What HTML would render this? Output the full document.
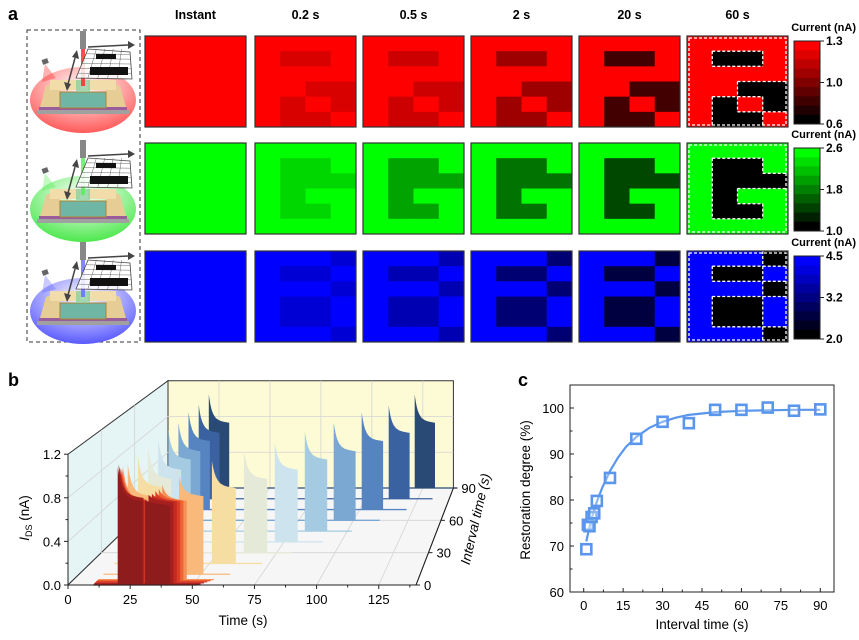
<!DOCTYPE html>
<html><head><meta charset="utf-8">
<style>
html,body{margin:0;padding:0;background:#fff;}
svg{display:block;font-family:"Liberation Sans",Arial,sans-serif;}
</style></head>
<body>
<svg id="fig" width="859" height="640" viewBox="0 0 859 640" xmlns="http://www.w3.org/2000/svg">
<defs>
<radialGradient id="gr" cx="0.5" cy="0.3" r="0.7"><stop offset="0" stop-color="#fff"/><stop offset="1" stop-color="#ff5a5a"/></radialGradient>
<radialGradient id="gg" cx="0.5" cy="0.3" r="0.7"><stop offset="0" stop-color="#fff"/><stop offset="1" stop-color="#4ee84e"/></radialGradient>
<radialGradient id="gb" cx="0.5" cy="0.3" r="0.7"><stop offset="0" stop-color="#fff"/><stop offset="1" stop-color="#5a5aff"/></radialGradient>
</defs>
<text x="8" y="20" font-size="18" font-weight="bold">a</text>
<text x="8" y="386" font-size="18" font-weight="bold">b</text>
<text x="518" y="386" font-size="18" font-weight="bold">c</text>
<g id="schem"></g>
<g id="pa"></g>
<g id="pb"></g>
<g id="pc"></g>
</svg>
<script>
// ---------- Panel a data ----------
const timeLabels = ["Instant","0.2 s","0.5 s","2 s","20 s","60 s"];
const maskR = [[0,0,0,0],[0,1,1,0],[0,0,0,0],[0,0,1,1],[0,1,0,1],[0,1,1,0]];
const maskG = [[0,0,0,0],[0,1,1,0],[0,1,1,1],[0,1,0,0],[0,1,1,0],[0,0,0,0]];
const maskB = [[0,0,0,1],[0,1,1,0],[0,0,0,1],[0,1,1,0],[0,1,1,0],[0,0,0,1]];
const darkR = [0,0.15,0.2,0.38,0.74,1];
const darkG = [0,0.16,0.36,0.55,0.72,1];
const darkB = [0,0.17,0.3,0.55,0.75,1];
const cbTicksR = ["1.3","1.0","0.6"];
const cbTicksG = ["2.6","1.8","1.0"];
const cbTicksB = ["4.5","3.2","2.0"];

// ---------- Panel b data ----------
const intervals = [0,1,2,3,4,5,10,20,30,40,50,60,70,80,90];
const peak1 = [1.08,1.1,1.07,1.05,1.04,1.05,1.03,1.02,1.03,1.02,1.03,1.02,1.04,1.03,1.05];
const plateau1 = [0.8,0.82,0.79,0.78,0.78,0.77,0.76,0.76,0.75,0.75,0.76,0.75,0.76,0.75,0.76];
const peak2 = [0.78,0.82,0.82,0.84,0.85,0.88,0.92,0.98,1.0,0.99,1.02,1.02,1.04,1.02,1.05];
const plateau2 = [0.76,0.78,0.78,0.77,0.77,0.76,0.76,0.75,0.75,0.75,0.76,0.75,0.76,0.75,0.76];
const traceColors = ['#8e1c1c','#a51f1f','#c32a20','#dc3b25','#ec6334','#f4925a','#f9b97a','#f6dea3','#e4ead7','#cde4ee','#a4cbe2','#7aa8d2','#5684c1','#3b62a0','#2a4a76'];
const bXTicks = [0,25,50,75,100,125];
const bZTicks = ["0.0","0.4","0.8","1.2"];
const bDTicks = [0,30,60,90];

// ---------- Panel c data ----------
const cT = [1,1.6,2.2,3,4,5,10,20,30,40,50,60,70,80,90];
const cR = [69.3,74.6,74.3,76.3,77.1,79.8,84.8,93.3,97.0,96.7,99.6,99.6,100.1,99.4,99.7];
const fitT = [1,2,3,5,7,10,13,16,20,25,30,35,40,50,60,70,80,90];
const fitR = [71,73.6,76,79.6,82.6,86.3,89.2,91.5,93.7,95.7,97.0,97.9,98.5,99.1,99.4,99.5,99.6,99.6];
const cXTicks = [0,15,30,45,60,75,90];
const cYTicks = [60,70,80,90,100];

const NS="http://www.w3.org/2000/svg";
function mk(parent,tag,attrs,text){const e=document.createElementNS(NS,tag);for(const k in attrs)e.setAttribute(k,attrs[k]);if(text!==undefined)e.textContent=text;parent.appendChild(e);return e;}

// ---------- schematic ----------
(function(){
  const g=document.getElementById('schem');
  mk(g,'rect',{x:27,y:30,width:113,height:312,fill:'none',stroke:'#333','stroke-dasharray':'4,3','stroke-width':1});
  const rows=[{cy:100,grad:'gr',beam:'#f22'},{cy:209,grad:'gg',beam:'#5e5'},{cy:311,grad:'gb',beam:'#66f'}];
  rows.forEach((r,i)=>{
    const o=r.cy-100;
    const sg=mk(g,'g',{});
    
    
    mk(sg,'ellipse',{cx:83,cy:100+o,rx:53,ry:33,fill:'url(#'+r.grad+')'});
    mk(sg,'rect',{x:37,y:110+o,width:92,height:4,fill:'#a0a0a0'});
    mk(sg,'rect',{x:39,y:107+o,width:88,height:3,fill:'#9a5c9a'});
    mk(sg,'polygon',{points:`40,${107+o} 46,${86+o} 60,${80+o} 60,${107+o}`,fill:'#e6cd96'});
    mk(sg,'polygon',{points:`126,${107+o} 120,${86+o} 106,${80+o} 106,${107+o}`,fill:'#e6cd96'});
    mk(sg,'rect',{x:50,y:80+o,width:30,height:10,fill:'#f1dcaa'});
    mk(sg,'rect',{x:88,y:80+o,width:28,height:10,fill:'#f1dcaa'});
    mk(sg,'rect',{x:60,y:92+o,width:46,height:16,fill:'#6fb7a4',stroke:'#b08030','stroke-width':1});
    mk(sg,'rect',{x:76,y:80+o,width:14,height:12,fill:'#8fd0a0',opacity:0.8});
    mk(sg,'rect',{x:80,y:31+o,width:6,height:18,fill:'#888'});
    mk(sg,'rect',{x:81,y:49+o,width:4,height:37,fill:r.beam,opacity:0.8});
    mk(sg,'polygon',{points:`88,${49+o} 130,${52+o} 132,${79+o} 76,${78+o}`,fill:'#fff','fill-opacity':0.85,stroke:'#444','stroke-width':0.8});
    for(let k=1;k<6;k++){const yy=49+o+k*(29/6);mk(sg,'line',{x1:88-k*2,y1:yy,x2:130+k*0.33,y2:yy+0.5,stroke:'#666','stroke-width':0.5});}
    for(let k=1;k<5;k++){const xx=88+k*8.4;mk(sg,'line',{x1:xx,y1:49+o,x2:xx-10+k*1.5,y2:78+o,stroke:'#666','stroke-width':0.5});}
    mk(sg,'rect',{x:96,y:54+o,width:20,height:5,fill:'#111'});
    mk(sg,'rect',{x:90,y:67+o,width:38,height:8,fill:'#111'});
    mk(sg,'line',{x1:88,y1:47+o,x2:128,y2:45+o,stroke:'#444','stroke-width':1.5});
    mk(sg,'polygon',{points:`128,${41+o} 135,${45+o} 128,${49+o}`,fill:'#444'});
    mk(sg,'line',{x1:68,y1:84+o,x2:75,y2:58+o,stroke:'#444','stroke-width':1.5});
    mk(sg,'polygon',{points:`72,${57+o} 77,${50+o} 79,${59+o}`,fill:'#444'});
    mk(sg,'polygon',{points:`64,${82+o} 67,${91+o} 71,${84+o}`,fill:'#444'});
    mk(sg,'rect',{x:42,y:59+o,width:6,height:5,fill:'#666',transform:`rotate(-20 45 ${61+o})`});
    mk(sg,'polygon',{points:`45,${64+o} 42,${82+o} 56,${78+o}`,fill:r.beam,opacity:0.35});
  });
})();

// ---------- Panel a ----------
(function(){
  const g=document.getElementById('pa');
  const colX=[145,255,363,471,579,687];
  const rowY=[36,143,251];
  const W=101,H=91;
  timeLabels.forEach((t,i)=>{
    const e=mk(g,'text',{x:colX[i]+W/2,y:19,'font-size':12.5,'font-weight':'bold','text-anchor':'middle'},t);
    
    
  });
  const rowsDef=[{mask:maskR,dark:darkR,ch:0,ticks:cbTicksR,name:'red'},{mask:maskG,dark:darkG,ch:1,ticks:cbTicksG,name:'green'},{mask:maskB,dark:darkB,ch:2,ticks:cbTicksB,name:'blue'}];
  function col(ch,v){const c=[0,0,0];c[ch]=Math.round(255*v);return `rgb(${c[0]},${c[1]},${c[2]})`;}
  rowsDef.forEach((rd,ri)=>{
    const y0=rowY[ri];
    for(let ti=0;ti<6;ti++){
      const x0=colX[ti];
      const mg=mk(g,'g',{});
      
      
      const cw=W/4,chh=H/6;
      for(let r=0;r<6;r++)for(let c=0;c<4;c++){
        const v=rd.mask[r][c]?1-rd.dark[ti]:1;
        const cell=mk(mg,'rect',{x:x0+c*cw,y:y0+r*chh,width:cw+0.4,height:chh+0.4,fill:col(rd.ch,v)});
        
        
      }
      if(ti===5){
        const ds={stroke:'#fff','stroke-width':1.3,'stroke-dasharray':'3,2',fill:'none'};
        mk(mg,'rect',Object.assign({x:x0+2,y:y0+2,width:W-4,height:H-4},ds));
        for(let r=0;r<6;r++)for(let c=0;c<4;c++){
          if(!rd.mask[r][c])continue;
          const X=x0+c*cw,Y=y0+r*chh;
          if(r===0||!rd.mask[r-1][c])mk(mg,'line',Object.assign({x1:X,y1:Y,x2:X+cw,y2:Y},ds));
          if(r===5||!rd.mask[r+1][c])mk(mg,'line',Object.assign({x1:X,y1:Y+chh,x2:X+cw,y2:Y+chh},ds));
          if(c===0||!rd.mask[r][c-1])mk(mg,'line',Object.assign({x1:X,y1:Y,x2:X,y2:Y+chh},ds));
          if(c===3||!rd.mask[r][c+1])mk(mg,'line',Object.assign({x1:X+cw,y1:Y,x2:X+cw,y2:Y+chh},ds));
        }
      }
      mk(mg,'rect',{x:x0,y:y0,width:W,height:H,fill:'none',stroke:'#333','stroke-width':1.2});
    }
    const cb=mk(g,'g',{});
    
    
    const cy0=y0+5,ch=83,n=9;
    for(let k=0;k<n;k++){
      mk(cb,'rect',{x:794,y:cy0+k*ch/n,width:26,height:ch/n+0.5,fill:col(rd.ch,1-k/(n-1))});
    }
    mk(cb,'rect',{x:794,y:cy0,width:26,height:ch,fill:'none',stroke:'#222','stroke-width':1});
    const tt=mk(cb,'text',{x:856,y:y0-5,'font-size':11,'font-weight':'bold','text-anchor':'end'},'Current (nA)');
    
    
    rd.ticks.forEach((t,k)=>{
      const ty=cy0+k*ch/2;
      mk(cb,'line',{x1:820,y1:ty,x2:824,y2:ty,stroke:'#222'});
      const e=mk(cb,'text',{x:826,y:ty+4,'font-size':12,'font-weight':'bold'},t);
      
      
    });
  });
})();

// ---------- Panel b ----------
(function(){
  const g=document.getElementById('pb');
  function P(t,d,z){const f=d/90,s=1-0.18*f;return [68+100*f+t*2.486*s,585-97*f-z*109*s];}
  function pts(a){return a.map(p=>p[0].toFixed(1)+','+p[1].toFixed(1)).join(' ');}
  const lw=mk(g,'polygon',{points:pts([P(0,0,0),P(0,0,1.2),P(0,90,1.2),P(0,90,0)]),fill:'#e5f4f4',stroke:'#333','stroke-width':1});
  
  const bw=mk(g,'polygon',{points:pts([P(0,90,0),P(0,90,1.2),P(140,90,1.2),P(140,90,0)]),fill:'#fdfbd6',stroke:'#333','stroke-width':1});
  
  const fl=mk(g,'polygon',{points:pts([P(0,0,0),P(140,0,0),P(140,90,0),P(0,90,0)]),fill:'#f6f6f6',stroke:'#333','stroke-width':1});
  
  const gs={stroke:'#d4d4d4','stroke-width':0.8};
  [25,50,75,100,125].forEach(t=>{
    let a=P(t,90,0),b=P(t,90,1.2);mk(g,'line',Object.assign({x1:a[0],y1:a[1],x2:b[0],y2:b[1]},gs));
    a=P(t,0,0);mk(g,'line',Object.assign({x1:a[0],y1:a[1],x2:P(t,90,0)[0],y2:P(t,90,0)[1]},gs));
  });
  [0.4,0.8].forEach(z=>{
    let a=P(0,90,z),b=P(140,90,z);mk(g,'line',Object.assign({x1:a[0],y1:a[1],x2:b[0],y2:b[1]},gs));
    a=P(0,0,z);mk(g,'line',Object.assign({x1:a[0],y1:a[1],x2:P(0,90,z)[0],y2:P(0,90,z)[1]},gs));
  });
  [30,60].forEach(d=>{
    let a=P(0,d,0),b=P(0,d,1.2);mk(g,'line',Object.assign({x1:a[0],y1:a[1],x2:b[0],y2:b[1]},gs));
    b=P(140,d,0);mk(g,'line',Object.assign({x1:a[0],y1:a[1],x2:b[0],y2:b[1]},gs));
  });
  const offs=[0,0.25,0.6,1,1.6,2.4,3.5,5,6.5,8,9.2,10];
  function pulse(t0,d,pk,pl){
    const arr=[P(t0,d,0)];
    offs.forEach(o=>{const z=pl+(pk-pl)*Math.exp(-o/1.6)-0.03*o/10;arr.push(P(t0+o,d,z));});
    arr.push(P(t0+10,d,0));
    return arr;
  }
  for(let i=intervals.length-1;i>=0;i--){
    const d=intervals[i];
    const tg=mk(g,'g',{});
    
    
    const a=P(10,d,0),b=P(Math.min(145,40+d+12),d,0);
    mk(tg,'line',{x1:a[0],y1:a[1],x2:b[0],y2:b[1],stroke:traceColors[i],'stroke-width':1.3});
    const p1=mk(tg,'polygon',{points:pts(pulse(20,d,peak1[i],plateau1[i])),fill:traceColors[i]});
    
    
    const p2=mk(tg,'polygon',{points:pts(pulse(31+d,d,peak2[i],plateau2[i])),fill:traceColors[i]});
    
    
  }
  const ax={stroke:'#222','stroke-width':1};
  let a=P(0,0,0),b=P(140,0,0);mk(g,'line',Object.assign({x1:a[0],y1:a[1],x2:b[0],y2:b[1]},ax));
  b=P(0,0,1.2);mk(g,'line',Object.assign({x1:a[0],y1:a[1],x2:b[0],y2:b[1]},ax));
  a=P(140,0,0);b=P(140,90,0);mk(g,'line',Object.assign({x1:a[0],y1:a[1],x2:b[0],y2:b[1]},ax));
  for(let t=0;t<=137.5;t+=12.5){const p=P(t,0,0);mk(g,'line',Object.assign({x1:p[0],y1:p[1],x2:p[0],y2:p[1]+(t%25===0?4:2.5)},ax));}
  bXTicks.forEach(t=>{const p=P(t,0,0);const e=mk(g,'text',{x:p[0],y:p[1]+19,'font-size':13,'text-anchor':'middle'},String(t));});
  bZTicks.forEach((t,k)=>{const p=P(0,0,k*0.4);mk(g,'line',Object.assign({x1:p[0]-4,y1:p[1],x2:p[0],y2:p[1]},ax));if(k<3){const q=P(0,0,k*0.4+0.2);mk(g,'line',Object.assign({x1:q[0]-2.5,y1:q[1],x2:q[0],y2:q[1]},ax));}const e=mk(g,'text',{x:p[0]-7,y:p[1]+5,'font-size':13,'text-anchor':'end'},t);});
  bDTicks.forEach(d=>{const p=P(140,d,0);mk(g,'line',Object.assign({x1:p[0],y1:p[1],x2:p[0]+4,y2:p[1]},ax));const e=mk(g,'text',{x:p[0]+8,y:p[1]+5,'font-size':13},String(d));});
  let e=mk(g,'text',{x:243,y:625,'font-size':13.5,'text-anchor':'middle'},'Time (s)');
  
  e=mk(g,'text',{x:0,y:0,'font-size':13.5,'text-anchor':'middle',transform:'translate(29,518) rotate(-90)'});
  
  mk(e,'tspan',{'font-style':'italic'},'I');mk(e,'tspan',{'font-size':9,dy:3},'DS');mk(e,'tspan',{dy:-3},' (nA)');
  e=mk(g,'text',{x:0,y:0,'font-size':13.5,'font-style':'italic','text-anchor':'middle',transform:'translate(480,520) rotate(-77)'},'Interval time (s)');
  
})();

// ---------- Panel c ----------
(function(){
  const g=document.getElementById('pc');
  const L=570,R=834,T=385,B=592;
  const sx=v=>583.7+(v/90)*(820.3-583.7);
  const sy=v=>592-(v-60)*4.6;
  const ax={stroke:'#222','stroke-width':1};
  const fr=mk(g,'rect',{x:L,y:T,width:R-L,height:B-T,fill:'none',stroke:'#222','stroke-width':1});
  
  for(let v=0;v<=90;v+=7.5){const x=sx(v);mk(g,'line',Object.assign({x1:x,y1:B,x2:x,y2:B-(v%15===0?4:2.5)},ax));}
  for(let v=60;v<=100;v+=5){const y=sy(v);mk(g,'line',Object.assign({x1:L,y1:y,x2:L+(v%10===0?4:2.5),y2:y},ax));}
  cXTicks.forEach(v=>{const e=mk(g,'text',{x:sx(v),y:B+18,'font-size':13,'text-anchor':'middle'},String(v));});
  cYTicks.forEach(v=>{const e=mk(g,'text',{x:L-6,y:sy(v)+5,'font-size':13,'text-anchor':'end'},String(v));});
  const d=fitT.map((t,i)=>(i?'L':'M')+sx(t).toFixed(1)+','+sy(fitR[i]).toFixed(1)).join(' ');
  const fit=mk(g,'path',{d:d,fill:'none',stroke:'#5a96ec','stroke-width':2.2});
  
  cT.forEach((t,i)=>{
    const m=mk(g,'rect',{x:sx(t)-5,y:sy(cR[i])-5,width:10,height:10,fill:'#fff','fill-opacity':0.3,stroke:'#5a96ec','stroke-width':2.6});
    
    
  });
  let e=mk(g,'text',{x:702,y:629,'font-size':13.5,'text-anchor':'middle'},'Interval time (s)');
  
  e=mk(g,'text',{x:0,y:0,'font-size':13.5,'text-anchor':'middle',transform:'translate(530,490) rotate(-90)'},'Restoration degree (%)');
  
})();
</script>
</body></html>
